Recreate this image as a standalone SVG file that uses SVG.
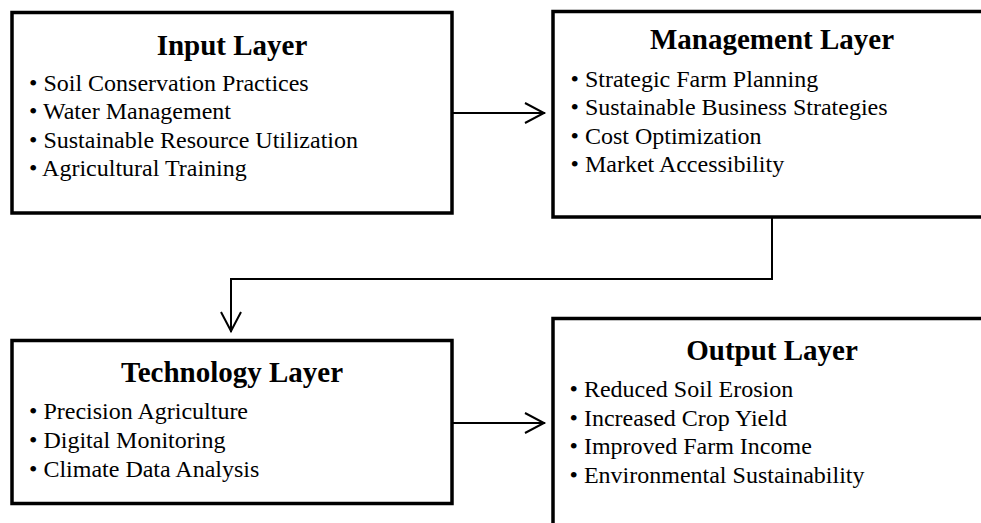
<svg xmlns="http://www.w3.org/2000/svg" width="981" height="523" viewBox="0 0 981 523">
<style>
.box{fill:#fff;stroke:#000;stroke-width:3.5}
.title{font-family:"Liberation Serif","Times New Roman",serif;font-size:29px;font-weight:bold;text-anchor:middle;fill:#000}
.item{font-family:"Liberation Serif","Times New Roman",serif;font-size:24px;fill:#000}
.conn{fill:none;stroke:#000;stroke-width:2}
</style>
<defs>
<marker id="arr" markerUnits="userSpaceOnUse" markerWidth="30" markerHeight="30" viewBox="0 0 30 30" refX="24" refY="15" orient="auto">
<path d="M4,5 L23,15 L4,25" fill="none" stroke="#000" stroke-width="2"/>
</marker>
</defs>
<rect width="981" height="523" fill="#fff"/>
<g id="input-layer">
<rect class="box" x="12" y="12.5" width="440" height="200.5"/>
<text class="title" x="232" y="55">Input Layer</text>
<text class="item" x="29" y="90.7">• Soil Conservation Practices</text>
<text class="item" x="29" y="119">• Water Management</text>
<text class="item" x="29" y="147.7">• Sustainable Resource Utilization</text>
<text class="item" x="29" y="176">• Agricultural Training</text>
</g>
<g id="management-layer">
<rect class="box" x="553" y="11.5" width="440" height="205.5"/>
<text class="title" x="772" y="49">Management Layer</text>
<text class="item" x="570.5" y="86.5">• Strategic Farm Planning</text>
<text class="item" x="570.5" y="115">• Sustainable Business Strategies</text>
<text class="item" x="570.5" y="143.5">• Cost Optimization</text>
<text class="item" x="570.5" y="172">• Market Accessibility</text>
</g>
<g id="technology-layer">
<rect class="box" x="12" y="340.5" width="440" height="163"/>
<text class="title" x="232" y="381.7">Technology Layer</text>
<text class="item" x="29" y="419.3">• Precision Agriculture</text>
<text class="item" x="29" y="448.3">• Digital Monitoring</text>
<text class="item" x="29" y="476.7">• Climate Data Analysis</text>
</g>
<g id="output-layer">
<rect class="box" x="553" y="318.5" width="440" height="230"/>
<text class="title" x="772" y="360">Output Layer</text>
<text class="item" x="569.5" y="396.7">• Reduced Soil Erosion</text>
<text class="item" x="569.5" y="425.7">• Increased Crop Yield</text>
<text class="item" x="569.5" y="454.3">• Improved Farm Income</text>
<text class="item" x="569.5" y="482.7">• Environmental Sustainability</text>
</g>
<g id="connectors">
<path class="conn" d="M452,113 H545" marker-end="url(#arr)"/>
<path class="conn" d="M772,217 V279 H231 V332" marker-end="url(#arr)"/>
<path class="conn" d="M452,423 H545" marker-end="url(#arr)"/>
</g>
</svg>
